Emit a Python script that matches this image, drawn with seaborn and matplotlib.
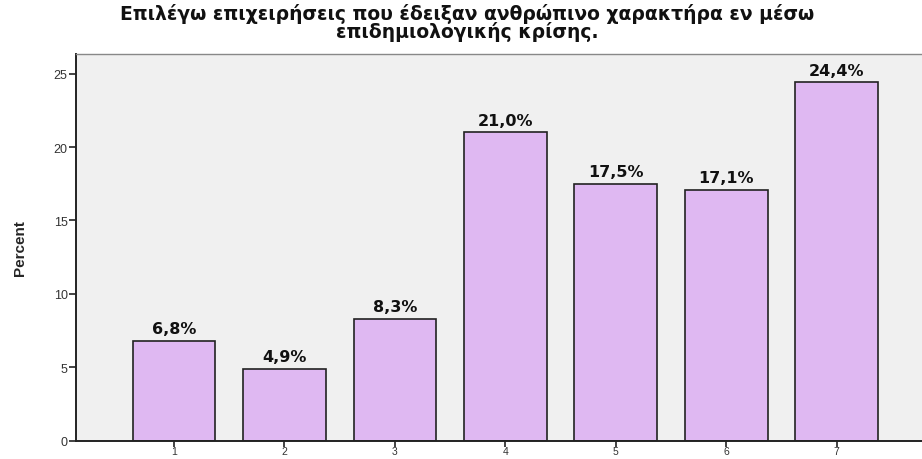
import matplotlib
matplotlib.use("Agg")
import matplotlib.pyplot as plt
import seaborn as sns
import pandas as pd

# Response scale (1-7) and percentage of respondents per answer
categories = ["1", "2", "3", "4", "5", "6", "7"]
percents = [6.8, 4.9, 8.3, 21.0, 17.5, 17.1, 24.4]
value_labels = ["6,8%", "4,9%", "8,3%", "21,0%", "17,5%", "17,1%", "24,4%"]
y_ticks = [0, 5, 10, 15, 20, 25]

title_text = ("Επιλέγω επιχειρήσεις που έδειξαν ανθρώπινο χαρακτήρα εν μέσω\n"
              "επιδημιολογικής κρίσης.")

df = pd.DataFrame({"category": categories, "percent": percents})

sns.set_theme(style="white")
plt.rcParams["font.family"] = ["Liberation Sans", "DejaVu Sans"]

fig = plt.figure(figsize=(9.22, 4.6), dpi=100)
fig.patch.set_facecolor("white")
ax = fig.add_axes([76 / 922, 1 - 441.7 / 460, (925 - 76) / 922, (441.7 - 55) / 460])
ax.set_facecolor("#f0f0f0")

sns.barplot(data=df, x="category", y="percent", order=categories,
            color="#dfb8f2", saturation=1, width=0.75,
            edgecolor="#222222", linewidth=1.2, ax=ax)

for i, (v, lab) in enumerate(zip(percents, value_labels)):
    ax.annotate(lab, (i, v), xytext=(0, 3.5), textcoords="offset points",
                ha="center", va="bottom", fontsize=11.5, fontweight="bold",
                family=["DejaVu Sans"], color="#111111")

ax.set_xlim(-0.888, 6.80)
ax.set_ylim(0, 26.34)
ax.set_yticks(y_ticks)
ax.set_yticklabels([str(t) for t in y_ticks])
ax.tick_params(axis="y", direction="out", length=5, width=1.2,
               color="#222222", labelsize=9, labelcolor="#333333", pad=1,
               left=True)
ax.tick_params(axis="x", direction="out", length=4, width=1.2,
               color="#222222", labelsize=7.5, labelcolor="#333333", pad=0,
               bottom=True)
ax.set_xlabel("")
ax.set_ylabel("Percent", fontsize=11, fontweight="bold",
              family=["Liberation Sans Narrow", "Liberation Sans"], labelpad=19)

for side in ["left", "bottom"]:
    ax.spines[side].set_color("#222222")
    ax.spines[side].set_linewidth(1.4)
ax.spines["top"].set_color("#888888")
ax.spines["top"].set_linewidth(1.0)
ax.spines["right"].set_visible(False)

fig.text(467 / 922, 1 - 4 / 460, title_text, ha="center", va="top",
         fontsize=13.5, fontweight="bold", linespacing=0.86, color="#111111",
         family=["DejaVu Sans"])

fig.savefig("out.png", dpi=100, facecolor="white")
